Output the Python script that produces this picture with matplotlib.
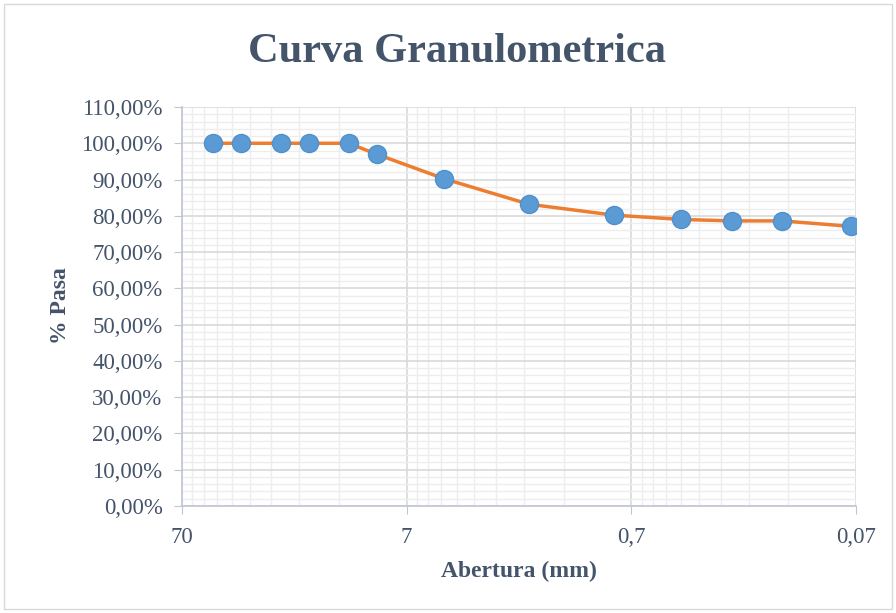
import numpy as np
import matplotlib
matplotlib.use("Agg")
import matplotlib.pyplot as plt
from matplotlib.ticker import FixedLocator, FuncFormatter, MultipleLocator
from matplotlib.patches import Rectangle

# datos de la curva granulométrica
abertura = [50.8, 38.1, 25.4, 19.05, 12.7, 9.525, 4.76, 2.0, 0.84, 0.42, 0.25, 0.149, 0.074]
pasa = [1.0, 1.0, 1.0, 1.0, 1.0, 0.970, 0.902, 0.832, 0.802, 0.790, 0.786, 0.786, 0.771]
xticks = [70, 7, 0.7, 0.07]
xticklabels = ["70", "7", "0,7", "0,07"]

plt.rcParams["font.family"] = ["Liberation Serif", "DejaVu Serif"]
txt = "#44546A"
W, H = 896, 613
fig = plt.figure(figsize=(W / 100, H / 100), dpi=100)
ax = fig.add_axes([182 / W, 1 - 506 / H, (856 - 182) / W, (506 - 107) / H])

ax.set_xscale("log")
ax.set_xlim(70, 0.07)
ax.set_ylim(0, 1.10)

minors = [k * 7 * 10.0 ** n for n in (-3, -2, -1, 0) for k in range(2, 10)]
ax.xaxis.set_major_locator(FixedLocator(xticks))
ax.xaxis.set_minor_locator(FixedLocator(minors))
ax.xaxis.set_major_formatter(FuncFormatter(lambda v, p: xticklabels[xticks.index(v)] if v in xticks else ""))
ax.xaxis.set_minor_formatter(FuncFormatter(lambda v, p: ""))
ax.yaxis.set_major_locator(MultipleLocator(0.10))
ax.yaxis.set_minor_locator(MultipleLocator(0.02))
ax.yaxis.set_major_formatter(FuncFormatter(lambda v, p: f"{v * 100:.2f}%".replace(".", ",")))

ax.grid(which="major", color="#D9D9D9", lw=1.2)
ax.grid(which="minor", color="#EDEDED", lw=1.0)
ax.set_axisbelow(True)

for s in ["top", "right"]:
    ax.spines[s].set_visible(False)
for s in ["left", "bottom"]:
    ax.spines[s].set_color("#BFC5D3")
    ax.spines[s].set_linewidth(1.2)
ax.tick_params(which="major", length=6, color="#BFC5D3", labelcolor=txt, labelsize=16.5)
ax.tick_params(axis="y", pad=8)
ax.tick_params(axis="x", pad=9)
ax.tick_params(which="minor", length=0)

ax.plot(abertura, pasa, "-", color="#ED7D31", lw=2.5, zorder=3)
ax.plot(abertura, pasa, "o", ms=13, mfc="#5B9BD5", mec="#5090CC", mew=1, zorder=4)

fig.text(457 / W, 1 - 52 / H, "Curva Granulometrica", ha="center", va="center",
         fontsize=30.5, fontweight="bold", color=txt)
fig.text(519 / W, 1 - 571 / H, "Abertura (mm)", ha="center", va="center",
         fontsize=17, fontweight="bold", color=txt)
fig.text(60 / W, 1 - 306 / H, "% Pasa", ha="center", va="center", rotation=90,
         fontsize=17, fontweight="bold", color=txt)

fig.patches.append(Rectangle((4 / W, 4 / H), 888 / W, 605 / H, transform=fig.transFigure,
                             fill=False, ec="#D9D9D9", lw=1))
fig.savefig("out.png", dpi=100)
